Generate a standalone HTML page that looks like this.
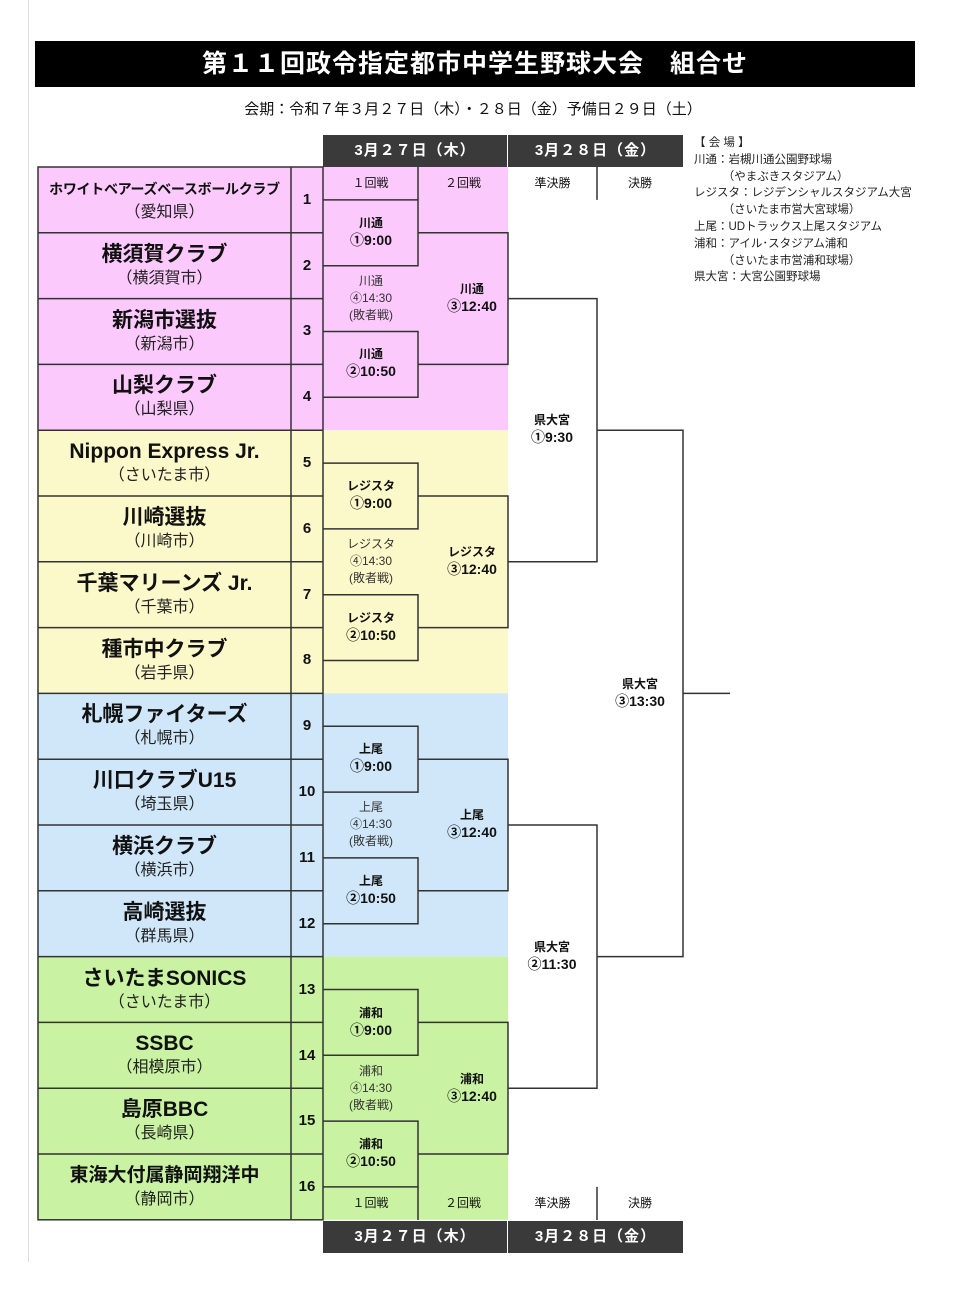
<!DOCTYPE html>
<html><head><meta charset="utf-8"><style>
body{margin:0;background:#fff;width:960px;height:1314px;position:relative;overflow:hidden;font-family:"Liberation Sans","Noto Sans CJK JP",sans-serif;color:#111}
.a{position:absolute}
.t{position:absolute;text-align:center;line-height:1.25;white-space:nowrap}
.nm{position:absolute;left:38px;width:253px;display:flex;flex-direction:column;align-items:center;justify-content:center;height:66px}
.nm b{font-size:21px;font-weight:bold;line-height:26px;white-space:nowrap}
.nm span{font-size:16px;line-height:22px;color:#222}
.num{position:absolute;left:291px;width:32px;text-align:center;font-weight:bold;font-size:15px}
.lb{position:absolute;width:96px;text-align:center;font-size:12px;line-height:17px;font-weight:bold}
.lb i{font-style:normal;font-size:14px;display:block}
.ls{position:absolute;width:96px;text-align:center;font-size:12px;line-height:17px;color:#333}
.hd{position:absolute;background:#3a3a3a;color:#fff;font-weight:bold;font-size:15px;text-align:center;line-height:32px;letter-spacing:1px}
</style></head><body>
<div class="a" style="left:28px;top:0;width:1px;height:1262px;background:#ddd"></div>
<div class="a" style="left:35px;top:41px;width:880px;height:46px;background:#000;color:#fff;font-weight:bold;font-size:25px;line-height:46px;text-align:center;letter-spacing:1px">第１１回政令指定都市中学生野球大会　組合せ</div>
<div class="t" style="left:0;width:946px;top:101px;font-size:15px">会期：令和７年３月２７日（木）・２８日（金）予備日２９日（土）</div>

<div class="hd" style="left:323px;top:135px;width:184px">3月２７日（木）</div>
<div class="hd" style="left:508px;top:135px;width:175px">3月２８日（金）</div>
<div class="hd" style="left:323px;top:1221px;width:184px">3月２７日（木）</div>
<div class="hd" style="left:508px;top:1221px;width:175px">3月２８日（金）</div>

<svg class="a" style="left:0;top:0" width="960" height="1314">
<rect x="38" y="167" width="470" height="263.2" fill="#fbc9fb"/>
<rect x="38" y="430.2" width="470" height="263.2" fill="#fbf8c9"/>
<rect x="38" y="693.4" width="470" height="263.2" fill="#cfe7f9"/>
<rect x="38" y="956.6" width="470" height="263.2" fill="#c9f3a2"/>
<g stroke="#333" stroke-width="1.5" fill="none">
<rect x="38" y="167" width="285" height="1052.8"/>
<line x1="291" y1="167" x2="291" y2="1219.8"/>
<path d="M38 232.8H323M38 298.6H323M38 364.4H323M38 430.2H323M38 496H323M38 561.8H323M38 627.6H323M38 693.4H323M38 759.2H323M38 825H323M38 890.8H323M38 956.6H323M38 1022.4H323M38 1088.2H323M38 1154H323"/>
<path d="M418 167V199.9M597 167V199.9M597 1186.9V1220M418 1186.9V1220"/>
<path d="M323 199.9H418V265.7H323M323 331.5H418V397.3H323M418 232.8H508V364.4H418"/>
<path d="M323 463.1H418V528.9H323M323 594.7H418V660.5H323M418 496H508V627.6H418"/>
<path d="M323 726.3H418V792.1H323M323 857.9H418V923.7H323M418 759.2H508V890.8H418"/>
<path d="M323 989.5H418V1055.3H323M323 1121.1H418V1186.9H323M418 1022.4H508V1154H418"/>
<path d="M508 298.6H597V561.8H508M508 825H597V1088.2H508M597 430.2H683V956.6H597M683 693.4H730"/>
</g>
</svg>

<div class="t" style="left:323px;width:95px;top:176px;font-size:12px">１回戦</div>
<div class="t" style="left:418px;width:90px;top:176px;font-size:12px">２回戦</div>
<div class="t" style="left:508px;width:89px;top:176px;font-size:12px">準決勝</div>
<div class="t" style="left:597px;width:86px;top:176px;font-size:12px">決勝</div>
<div class="t" style="left:323px;width:95px;top:1196px;font-size:12px">１回戦</div>
<div class="t" style="left:418px;width:90px;top:1196px;font-size:12px">２回戦</div>
<div class="t" style="left:508px;width:89px;top:1196px;font-size:12px">準決勝</div>
<div class="t" style="left:597px;width:86px;top:1196px;font-size:12px">決勝</div>

<div class="a" style="left:694px;top:135px;font-size:11.5px;line-height:16.8px;color:#222;white-space:pre">【 会 場 】
川通：岩槻川通公園野球場
　　　（やまぶきスタジアム）
レジスタ：レジデンシャルスタジアム大宮
　　　（さいたま市営大宮球場）
上尾：UDトラックス上尾スタジアム
浦和：アイル･スタジアム浦和
　　　（さいたま市営浦和球場）
県大宮：大宮公園野球場</div>

<div class="nm" style="top:167px"><b style="font-size:14px;letter-spacing:-0.3px">ホワイトベアーズベースボールクラブ</b><span>（愛知県）</span></div>
<div class="nm" style="top:232.8px"><b>横須賀クラブ</b><span>（横須賀市）</span></div>
<div class="nm" style="top:298.6px"><b>新潟市選抜</b><span>（新潟市）</span></div>
<div class="nm" style="top:364.4px"><b>山梨クラブ</b><span>（山梨県）</span></div>
<div class="nm" style="top:430.2px"><b>Nippon Express Jr.</b><span>（さいたま市）</span></div>
<div class="nm" style="top:496px"><b>川崎選抜</b><span>（川崎市）</span></div>
<div class="nm" style="top:561.8px"><b>千葉マリーンズ Jr.</b><span>（千葉市）</span></div>
<div class="nm" style="top:627.6px"><b>種市中クラブ</b><span>（岩手県）</span></div>
<div class="nm" style="top:693.4px"><b>札幌ファイターズ</b><span>（札幌市）</span></div>
<div class="nm" style="top:759.2px"><b>川口クラブU15</b><span>（埼玉県）</span></div>
<div class="nm" style="top:825px"><b>横浜クラブ</b><span>（横浜市）</span></div>
<div class="nm" style="top:890.8px"><b>高崎選抜</b><span>（群馬県）</span></div>
<div class="nm" style="top:956.6px"><b>さいたまSONICS</b><span>（さいたま市）</span></div>
<div class="nm" style="top:1022.4px"><b>SSBC</b><span>（相模原市）</span></div>
<div class="nm" style="top:1088.2px"><b>島原BBC</b><span>（長崎県）</span></div>
<div class="nm" style="top:1154px"><b style="font-size:19px">東海大付属静岡翔洋中</b><span>（静岡市）</span></div>

<div class="num" style="top:191px">1</div>
<div class="num" style="top:257px">2</div>
<div class="num" style="top:322px">3</div>
<div class="num" style="top:388px">4</div>
<div class="num" style="top:454px">5</div>
<div class="num" style="top:520px">6</div>
<div class="num" style="top:586px">7</div>
<div class="num" style="top:651px">8</div>
<div class="num" style="top:717px">9</div>
<div class="num" style="top:783px">10</div>
<div class="num" style="top:849px">11</div>
<div class="num" style="top:915px">12</div>
<div class="num" style="top:981px">13</div>
<div class="num" style="top:1047px">14</div>
<div class="num" style="top:1112px">15</div>
<div class="num" style="top:1178px">16</div>

<div class="lb" style="left:323px;top:215px">川通<i>①9:00</i></div>
<div class="ls" style="left:323px;top:273px">川通<br>④14:30<br>(敗者戦)</div>
<div class="lb" style="left:323px;top:346px">川通<i>②10:50</i></div>
<div class="lb" style="left:424px;top:281px">川通<i>③12:40</i></div>

<div class="lb" style="left:323px;top:478px">レジスタ<i>①9:00</i></div>
<div class="ls" style="left:323px;top:536px">レジスタ<br>④14:30<br>(敗者戦)</div>
<div class="lb" style="left:323px;top:610px">レジスタ<i>②10:50</i></div>
<div class="lb" style="left:424px;top:544px">レジスタ<i>③12:40</i></div>

<div class="lb" style="left:323px;top:741px">上尾<i>①9:00</i></div>
<div class="ls" style="left:323px;top:799px">上尾<br>④14:30<br>(敗者戦)</div>
<div class="lb" style="left:323px;top:873px">上尾<i>②10:50</i></div>
<div class="lb" style="left:424px;top:807px">上尾<i>③12:40</i></div>

<div class="lb" style="left:323px;top:1005px">浦和<i>①9:00</i></div>
<div class="ls" style="left:323px;top:1063px">浦和<br>④14:30<br>(敗者戦)</div>
<div class="lb" style="left:323px;top:1136px">浦和<i>②10:50</i></div>
<div class="lb" style="left:424px;top:1071px">浦和<i>③12:40</i></div>

<div class="lb" style="left:504px;top:412px">県大宮<i>①9:30</i></div>
<div class="lb" style="left:504px;top:939px">県大宮<i>②11:30</i></div>
<div class="lb" style="left:592px;top:676px">県大宮<i>③13:30</i></div>
</body></html>
